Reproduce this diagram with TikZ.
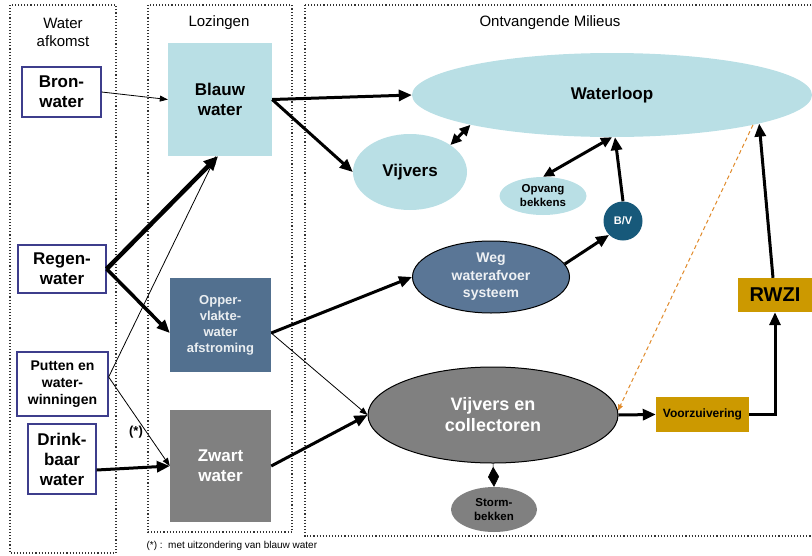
\documentclass[tikz,border=0pt]{standalone}
\usepackage{fontspec}
\setmainfont{Liberation Sans}
\usetikzlibrary{arrows.meta,shapes.geometric,calc}
\definecolor{lblue}{HTML}{B9DFE5}
\definecolor{steel}{HTML}{52708F}
\definecolor{steelw}{HTML}{5A7696}
\definecolor{gr}{HTML}{808080}
\definecolor{bvc}{HTML}{17597A}
\definecolor{gold}{HTML}{CC9900}
\definecolor{bordc}{HTML}{3D3D8C}
\definecolor{orng}{HTML}{E08A2A}
\begin{document}
\begin{tikzpicture}[x=1pt,y=-1pt,
  panel/.style={draw=black!80,dotted,line width=1.1pt},
  srcbox/.style={draw=bordc,line width=1.3pt,fill=white,align=center,inner sep=0pt,font=\fontsize{17}{20}\selectfont\bfseries},
  lozbox/.style={rectangle,inner sep=0pt,align=center},
  ell/.style={ellipse,inner sep=0pt,align=center},
  goldbox/.style={rectangle,fill=gold,inner sep=0pt,align=center},
  thickarr/.style={line width=3pt,-{Triangle[length=13pt,width=11pt]}},
  thinarr/.style={line width=0.8pt,-{Triangle[length=8pt,width=6pt]}},
  dblarr/.style={line width=3pt,{Triangle[length=11pt,width=10pt]}-{Triangle[length=11pt,width=10pt]}},
  ttl/.style={font=\fontsize{15}{18}\selectfont,align=center}
]
\useasboundingbox (0,0) rectangle (812,555);
\clip (0,0) rectangle (812,555);
% panels
\draw[panel] (10,5) rectangle (116,553);
\draw[panel] (148,5) rectangle (292,532);
\draw[panel] (305,5) rectangle (830,536);
\node[ttl] (t1) at (63,32) {Water\\afkomst};
\node[ttl] (t2) at (219,23) {Lozingen};
\node[ttl] (t3) at (550,23) {Ontvangende Milieus};

% sources
\node[srcbox,minimum width=79pt,minimum height=50pt] (bron) at (61.5,92) {Bron-\\water};
\node[srcbox,minimum width=88pt,minimum height=48pt] (regen) at (62,269) {Regen-\\water};
\node[srcbox,minimum width=91pt,minimum height=64pt,font=\fontsize{14}{17}\selectfont\bfseries] (putten) at (62.5,384) {Putten en\\water-\\winningen};
\node[srcbox,minimum width=68pt,minimum height=70pt] (drink) at (62,459) {Drink-\\baar\\water};

% lozingen
\node[lozbox,fill=lblue,minimum width=104pt,minimum height=113pt,font=\fontsize{17}{20}\selectfont\bfseries] (blauw) at (220,99.5) {Blauw\\water};
\node[lozbox,fill=steel,minimum width=101pt,minimum height=94pt,text=white!88!steel,font=\fontsize{13}{16}\selectfont\bfseries] (opper) at (220.5,325) {Opper-\\vlakte-\\water\\afstroming};
\node[lozbox,fill=gr,minimum width=101pt,minimum height=112pt,text=white,font=\fontsize{17}{20}\selectfont\bfseries] (zwart) at (220.5,466) {Zwart\\water};

% receiving
\node[ell,fill=lblue,minimum width=400pt,minimum height=84pt,font=\fontsize{17}{20}\selectfont\bfseries] (waterloop) at (612,95) {Waterloop};
\node[ell,fill=lblue,minimum width=114pt,minimum height=76pt,font=\fontsize{17}{20}\selectfont\bfseries] (vijvers) at (410,172) {Vijvers};
\node[ell,fill=lblue,minimum width=87pt,minimum height=38pt,font=\fontsize{11.5}{14}\selectfont\bfseries] (opvang) at (543,196) {Opvang\\bekkens};
\node[circle,fill=bvc,minimum size=39pt,inner sep=0pt,text=white,font=\fontsize{11}{13}\selectfont\bfseries] (bv) at (623,221) {B/V};
\node[ell,fill=steelw,draw=black,line width=1pt,minimum width=157pt,minimum height=72pt,text=white!90!steel,font=\fontsize{14}{17.5}\selectfont\bfseries] (weg) at (491,277) {Weg\\waterafvoer\\systeem};
\node[ell,fill=gr,draw=black,line width=1pt,minimum width=250pt,minimum height=96pt,text=white,font=\fontsize{18}{21}\selectfont\bfseries] (vc) at (493,415) {Vijvers en\\collectoren};
\node[ell,fill=gr,minimum width=86pt,minimum height=45pt,font=\fontsize{11.5}{14}\selectfont\bfseries] (storm) at (494,509.5) {Storm-\\bekken};
\node[goldbox,minimum width=93pt,minimum height=35pt,font=\fontsize{12}{14}\selectfont\bfseries] (voorz) at (702.5,414.5) {Voorzuivering};
\node[goldbox,minimum width=74pt,minimum height=34pt,font=\fontsize{20}{24}\selectfont\bfseries] (rwzi) at (775,295) {RWZI};

% connectors
\draw[thinarr] (bron.east) -- (blauw.west);
\draw[thickarr] (blauw.east) -- (waterloop.west);
\draw[thickarr] (blauw.east) -- (vijvers.west);
\draw[dblarr] (vijvers.north east) -- (waterloop.south west);
\draw[dblarr] (opvang.north) -- (waterloop.south);
\draw[thickarr] (bv.north) -- ($(waterloop.south)+(3,0)$);
\draw[thickarr] (weg.10) -- (bv.225);
\draw[thickarr] ($(opper.east)+(0,8)$) -- (weg.west);
\draw[thinarr] ($(opper.east)+(0,8)$) -- (vc.west);
\draw[thickarr] (zwart.east) -- (vc.west);
\draw[thickarr] (vc.east) -- (voorz.west);
\draw[thickarr] (voorz.east) -| (rwzi.south);
\draw[thickarr] ($(rwzi.north)+(-2,0)$) -- (waterloop.-11);
\draw[orng,line width=1pt,dash pattern=on 4pt off 3pt,-{Triangle[length=6pt,width=5pt]}] (waterloop.-12) -- (vc.2);
\draw[-{Diamond[length=20pt,width=11pt]},line width=0.5pt] (vc.south) -- (storm.north);
\draw[line width=4.5pt,-{Triangle[length=14pt,width=13pt]}] (regen.east) -- ($(blauw.south)+(-2,0)$);
\draw[line width=3.5pt,-{Triangle[length=13pt,width=11pt]}] (regen.east) -- ($(opper.west)+(0,8)$);
\draw[thinarr] ($(putten.east)+(0,-7)$) -- ($(blauw.south)+(-4,0)$);
\draw[thinarr] ($(putten.east)+(0,-7)$) -- (zwart.west);
\draw[thickarr] ($(drink.east)+(0,11)$) -- (zwart.west);

\node[font=\fontsize{13}{15}\selectfont\bfseries] (star) at (136,432) {(*)};
\node[anchor=west,font=\fontsize{10}{12}\selectfont] (foot) at (143,546) {(*) :\ \ met uitzondering van blauw water};
\end{tikzpicture}
\end{document}
